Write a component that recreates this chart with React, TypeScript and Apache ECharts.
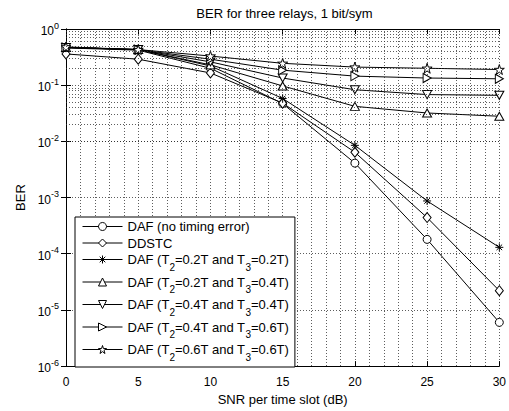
import React, { useEffect, useRef } from "react";
import * as echarts from "echarts";

const snr = [0, 5, 10, 15, 20, 25, 30];
const dafNoError = [0.46, 0.42, 0.2, 0.047, 0.0041, 1.8e-4, 6e-6];
const ddstc = [0.36, 0.29, 0.165, 0.048, 0.0064, 4.4e-4, 2.2e-5];
const daf22 = [0.47, 0.43, 0.22, 0.058, 0.0085, 8.7e-4, 1.3e-4];
const daf24 = [0.47, 0.43, 0.23, 0.097, 0.042, 0.032, 0.028];
const daf44 = [0.47, 0.43, 0.26, 0.134, 0.083, 0.068, 0.066];
const daf46 = [0.47, 0.43, 0.29, 0.185, 0.145, 0.134, 0.13];
const daf66 = [0.48, 0.43, 0.33, 0.245, 0.21, 0.2, 0.19];

const seriesNames = [
  "DAF (no timing error)",
  "DDSTC",
  "DAF (T2=0.2T and T3=0.2T)",
  "DAF (T2=0.2T and T3=0.4T)",
  "DAF (T2=0.4T and T3=0.4T)",
  "DAF (T2=0.4T and T3=0.6T)",
  "DAF (T2=0.6T and T3=0.6T)",
];

const FONT = "Liberation Sans, Arial, Helvetica, sans-serif";

function starPath(): string {
  const pts: string[] = [];
  for (let i = 0; i < 10; i++) {
    const r = i % 2 === 0 ? 10 : 3.82;
    const a = (-90 + i * 36) * (Math.PI / 180);
    pts.push(`${(10 + r * Math.cos(a)).toFixed(2)} ${(10 + r * Math.sin(a)).toFixed(2)}`);
  }
  return "path://M" + pts.join(" L") + " Z";
}

const symbols: { symbol: string; size: number | number[] }[] = [
  { symbol: "circle", size: 8 },
  { symbol: "diamond", size: [8, 10] },
  { symbol: "path://M5 0 L5 10 M0 5 L10 5 M1.5 1.5 L8.5 8.5 M1.5 8.5 L8.5 1.5", size: 8 },
  { symbol: "path://M5 0 L10 9 L0 9 Z", size: [9, 8] },
  { symbol: "path://M0 0 L10 0 L5 9 Z", size: [9, 8] },
  { symbol: "path://M0 0 L9 5 L0 10 Z", size: [8, 9] },
  { symbol: starPath(), size: 10 },
];

const allData = [dafNoError, ddstc, daf22, daf24, daf44, daf46, daf66];

export default function App() {
  const ref = useRef<HTMLDivElement>(null);
  useEffect(() => {
    document.body.style.margin = "0";
    const chart = echarts.init(ref.current!, null, { renderer: "svg" });

    const minorLines: { yAxis: number }[] = [];
    for (let k = -6; k < 0; k++) {
      for (let m = 2; m <= 9; m++) {
        minorLines.push({ yAxis: m * Math.pow(10, k) });
      }
    }

    const dotted = { type: [1, 2] as number[], color: "#333", width: 0.8 };

    const series: any[] = allData.map((d, i) => ({
      name: seriesNames[i],
      type: "line",
      data: snr.map((x, j) => [x, d[j]]),
      symbol: symbols[i].symbol,
      symbolSize: symbols[i].size,
      showAllSymbol: true,
      lineStyle: { color: "#000", width: 1 },
      itemStyle: { color: "#fff", borderColor: "#000", borderWidth: 1 },
      z: 3,
    }));
    series.push({
      name: "minorgrid",
      type: "line",
      data: [],
      z: 1,
      markLine: {
        silent: true,
        symbol: "none",
        label: { show: false },
        lineStyle: dotted,
        data: minorLines,
        animation: false,
      },
    });

    const ticksX = {
      min: 0,
      max: 30,
      interval: 5,
    };

    const toRich = (name: string) => {
      const parts = name.split(/T(\d)=/);
      let out = "";
      for (let i = 0; i < parts.length; i++) {
        if (i % 2 === 0) {
          const txt = parts[i] + (i < parts.length - 1 ? "T" : "");
          out += `{n|${txt}}`;
        } else {
          out += `{sub|${parts[i]}}{n|=}`;
        }
      }
      return out;
    };

    chart.setOption({
      animation: false,
      textStyle: { fontFamily: FONT },
      grid: { left: 66, right: 6, top: 29, bottom: 38 },
      graphic: [
        {
          type: "text",
          x: 284.5,
          y: 6.5,
          style: {
            text: "BER for three relays, 1 bit/sym",
            font: `13px ${FONT}`,
            fill: "#000",
            textAlign: "center",
            textVerticalAlign: "top",
          },
        },
      ],
      legend: {
        orient: "vertical",
        left: 75,
        top: 217,
        padding: [3, 6, 5, 7],
        itemGap: 3.5,
        itemWidth: 40,
        itemHeight: 10,
        backgroundColor: "#fff",
        borderColor: "#000",
        borderWidth: 1,
        selectedMode: false,
        data: seriesNames,
        itemStyle: { borderWidth: 1 },
        lineStyle: { width: 1 },
        formatter: toRich,
        textStyle: {
          fontSize: 13,
          color: "#000",
          fontFamily: FONT,
          rich: {
            n: { fontSize: 13, lineHeight: 13, verticalAlign: "middle", fontFamily: FONT, color: "#000" },
            sub: {
              fontSize: 10,
              lineHeight: 10,
              padding: [9, 0, 0, 0],
              verticalAlign: "top",
              fontFamily: FONT,
              color: "#000",
            },
          },
        },
      },
      xAxis: [
        {
          type: "value",
          ...ticksX,
          name: "SNR per time slot (dB)",
          nameLocation: "middle",
          nameGap: 20,
          nameTextStyle: { fontSize: 13, color: "#000", fontFamily: FONT },
          axisLine: { lineStyle: { color: "#000", width: 1 } },
          axisTick: { inside: true, length: 5, lineStyle: { color: "#000" } },
          axisLabel: { fontSize: 12, color: "#000", margin: 10, fontFamily: FONT },
          splitLine: { show: true, lineStyle: dotted },
          minorSplitLine: { show: true, lineStyle: dotted },
          minorTick: { show: false, splitNumber: 5 },
        },
        {
          type: "value",
          position: "top",
          ...ticksX,
          axisLine: { lineStyle: { color: "#000", width: 1 } },
          axisTick: { inside: true, length: 5, lineStyle: { color: "#000" } },
          axisLabel: { show: false },
          splitLine: { show: false },
        },
      ],
      yAxis: [
        {
          type: "log",
          logBase: 10,
          min: 1e-6,
          max: 1,
          splitNumber: 6,
          name: "BER",
          nameLocation: "middle",
          nameGap: 38,
          nameRotate: 90,
          nameTextStyle: { fontSize: 13, color: "#000", fontFamily: FONT },
          axisLine: { lineStyle: { color: "#000", width: 1 } },
          axisTick: { inside: true, length: 5, lineStyle: { color: "#000" } },
          axisLabel: {
            margin: 7,
            color: "#000",
            formatter: (v: number) => {
              const e = Math.round(Math.log10(v));
              return `{b|10}{s|${e === 0 ? "0" : "-" + Math.abs(e)}}`;
            },
            rich: {
              b: { fontSize: 12, lineHeight: 16, verticalAlign: "bottom", fontFamily: FONT, color: "#000" },
              s: { fontSize: 9, lineHeight: 9, verticalAlign: "top", fontFamily: FONT, color: "#000" },
            },
          },
          splitLine: { show: true, lineStyle: dotted },
        },
        {
          type: "log",
          logBase: 10,
          min: 1e-6,
          max: 1,
          splitNumber: 6,
          position: "right",
          axisLine: { lineStyle: { color: "#000", width: 1 } },
          axisTick: { inside: true, length: 5, lineStyle: { color: "#000" } },
          axisLabel: { show: false },
          splitLine: { show: false },
        },
      ],
      series,
    });
    return () => chart.dispose();
  }, []);
  return <div ref={ref} style={{ width: 509, height: 411 }} />;
}
